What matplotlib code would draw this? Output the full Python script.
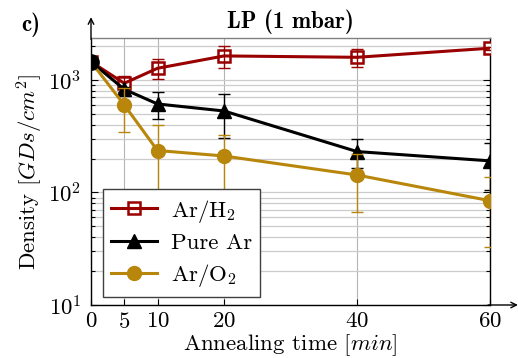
import matplotlib
matplotlib.use("Agg")
import matplotlib.pyplot as plt
from matplotlib.ticker import LogLocator, NullFormatter, FixedLocator

plt.rcParams['font.family'] = 'serif'
plt.rcParams['font.serif'] = ['cmr10', 'DejaVu Serif']
plt.rcParams['mathtext.fontset'] = 'cm'
plt.rcParams['axes.formatter.use_mathtext'] = True
plt.rcParams['axes.unicode_minus'] = False

# ---- data ----
time = [0, 5, 10, 20, 40, 60]
x_ticks = [0, 5, 10, 20, 40, 60]

h2_vals = [1450, 935, 1270, 1635, 1590, 1915]
h2_err = [0, 157, 258, 370, 284, 60]

ar_vals = [1450, 826, 612, 530, 231, 191]
ar_err = [0, 40, 166, 222, 66, 86]

o2_vals = [1450, 600, 236, 211, 143, 84.5]
o2_err = [0, 255, 162, 113, 76, 52]

labels = ['Ar/H$_2$', 'Pure Ar', 'Ar/O$_2$']
c_red = '#990000'
c_blk = '#000000'
c_gold = '#B8860B'

fig = plt.figure(figsize=(5.18, 3.58), dpi=100)
ax = fig.add_axes([91/518, 1-305/358, 399/518, 267/358])

fs = 16.5
lw = 2.2
elw = 1.0
cap = 4

# Ar/H2
h2_mk, = ax.plot(time, h2_vals, ls='none', marker='s', ms=9, mfc='white',
                 mec=c_red, mew=1.8, zorder=3)
ax.errorbar(time, h2_vals, yerr=h2_err, fmt='none', ecolor=c_red,
            elinewidth=elw, capsize=cap, capthick=elw, zorder=4)
h2_ln, = ax.plot(time, h2_vals, color=c_red, lw=lw, zorder=4)

# Pure Ar
ax.errorbar(time, ar_vals, yerr=ar_err, fmt='none', ecolor=c_blk,
            elinewidth=elw, capsize=cap, capthick=elw, zorder=5)
ar_ln, = ax.plot(time, ar_vals, color=c_blk, lw=lw, marker='^', ms=10,
                 zorder=5)

# Ar/O2
ax.errorbar(time, o2_vals, yerr=o2_err, fmt='none', ecolor=c_gold,
            elinewidth=elw, capsize=cap, capthick=elw, zorder=6)
o2_ln, = ax.plot(time, o2_vals, color=c_gold, lw=lw, marker='o', ms=10,
                 zorder=6)

# common starting point
ax.plot(time[:1], ar_vals[:1], ls='none', marker='o', ms=11, color=c_blk,
        zorder=7)

ax.set_yscale('log')
ax.set_xlim(0, 60)
ax.set_ylim(10, 2360)
ax.xaxis.set_major_locator(FixedLocator(x_ticks))
ax.yaxis.set_major_locator(LogLocator(base=10, numticks=10))
ax.yaxis.set_minor_locator(LogLocator(base=10, subs=range(2, 10), numticks=20))
ax.yaxis.set_minor_formatter(NullFormatter())

ax.grid(True, axis='x', which='major', color='#b5b5b5', lw=0.8)
ax.grid(True, axis='y', which='both', color='#cccccc', lw=0.9)
ax.set_axisbelow(True)

ax.tick_params(which='both', direction='in', right=True, top=False,
               labelsize=fs, colors='black')
ax.tick_params(axis='y', which='major', length=5, width=0.8, pad=7)
ax.tick_params(axis='y', which='minor', length=3, width=0.8)
ax.tick_params(axis='x', which='major', length=4, width=0.8, pad=5)

for s in ['left', 'bottom', 'right']:
    ax.spines[s].set_color('black')
    ax.spines[s].set_linewidth(1.0)
ax.spines['top'].set_color('#808080')
ax.spines['top'].set_linewidth(1.0)

# axis arrows
ax.annotate('', xy=(0, 1.078), xytext=(0, 0.995), xycoords='axes fraction',
            arrowprops=dict(arrowstyle='->', lw=1.0, color='black',
                            shrinkA=0, shrinkB=0))
ax.annotate('', xy=(1.07, 0), xytext=(0.995, 0), xycoords='axes fraction',
            arrowprops=dict(arrowstyle='->', lw=1.0, color='black',
                            shrinkA=0, shrinkB=0))

ax.set_title('LP (1 mbar)', fontsize=fs, pad=7,
             fontfamily=['cmb10', 'DejaVu Serif'])
fig.text(21/518, 1-25/358, 'c)', fontsize=fs, ha='left', va='center',
         fontfamily=['cmb10', 'DejaVu Serif'])
ax.set_xlabel(r'Annealing time $[min]$', fontsize=fs, labelpad=0)
ax.set_ylabel(r'Density $[GDs/cm^2]$', fontsize=fs, labelpad=2)

leg = ax.legend([(h2_mk, h2_ln), ar_ln, o2_ln], labels, loc='lower left',
                bbox_to_anchor=(0.03, 0.03), fontsize=fs, frameon=True,
                fancybox=False, framealpha=1, edgecolor='#404040',
                handlelength=2.0, labelspacing=0.38, borderpad=0.35,
                handletextpad=0.6, borderaxespad=0)
leg.get_frame().set_linewidth(1.0)
leg.set_zorder(10)

fig.savefig('out.png', dpi=100)
